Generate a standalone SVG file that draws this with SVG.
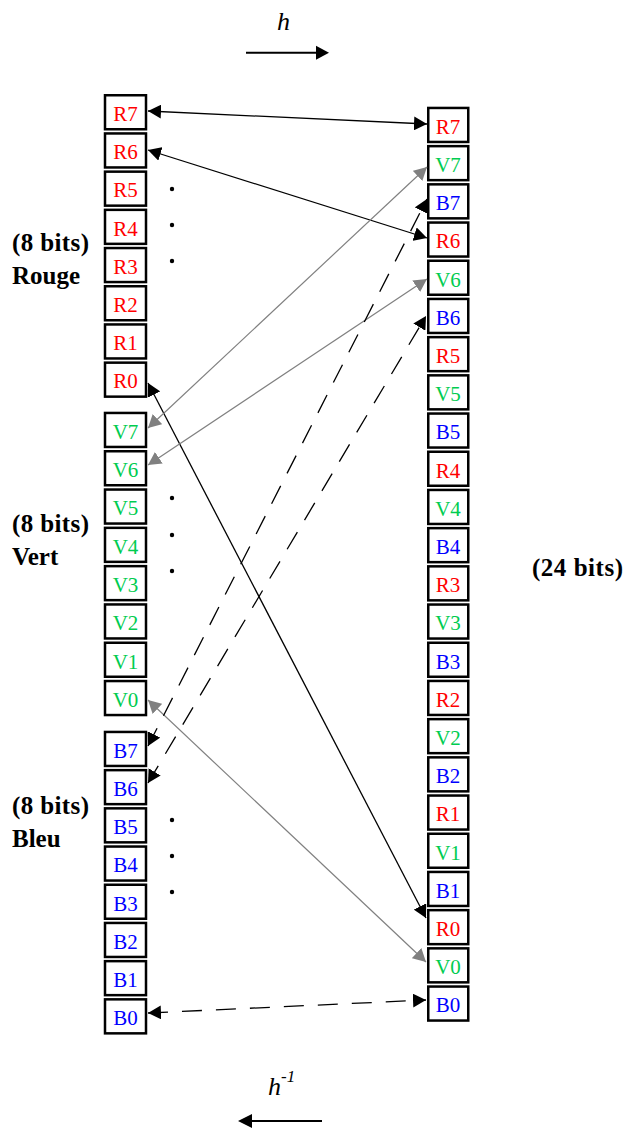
<svg xmlns="http://www.w3.org/2000/svg" width="626" height="1129" viewBox="0 0 626 1129">
<style>
.bx{fill:#fff;stroke:#000;stroke-width:2.5}
.t{font-size:21px;text-anchor:middle}
.r{fill:#ff0000}.v{fill:#00cc50}.b{fill:#0000ff}
.lbl{font-size:25px;font-weight:bold;fill:#000}
.it{font-style:italic;fill:#000}
.k{stroke:#000;stroke-width:1.3;fill:none;marker-start:url(#ak);marker-end:url(#ak)}
.g{stroke:#808080;stroke-width:1.2;fill:none;marker-start:url(#ag);marker-end:url(#ag)}
.d{stroke:#000;stroke-width:1.3;fill:none;stroke-dasharray:20 14;marker-start:url(#ak);marker-end:url(#ak)}
.dot{fill:#000}
</style>
<defs>
<marker id="ak" viewBox="0 0 13 14" refX="13" refY="7" markerWidth="13" markerHeight="14" markerUnits="userSpaceOnUse" orient="auto-start-reverse"><path d="M0,0 L13,7 L0,14 z" fill="#000"/></marker>
<marker id="ag" viewBox="0 0 13 14" refX="13" refY="7" markerWidth="13" markerHeight="14" markerUnits="userSpaceOnUse" orient="auto-start-reverse"><path d="M0,0 L13,7 L0,14 z" fill="#808080"/></marker>
</defs>
<g font-family="Liberation Serif, Times New Roman, serif">

<!-- direction indicators -->
<g id="h-top">
<text class="it" x="277" y="30" font-size="26">h</text>
<line x1="246" y1="52.7" x2="318" y2="52.7" stroke="#000" stroke-width="2"/>
<polygon points="316,45.7 329,52.7 316,59.7" fill="#000"/>
</g>
<g id="h-inv">
<text class="it" x="268" y="1095" font-size="26">h<tspan font-size="17" dy="-13">-1</tspan></text>
<line x1="250" y1="1121" x2="322" y2="1121" stroke="#000" stroke-width="2"/>
<polygon points="238,1121 252,1114 252,1128" fill="#000"/>
</g>

<!-- labels -->
<g id="label-rouge"><text class="lbl" x="12" y="251" textLength="77" lengthAdjust="spacing">(8 bits)</text><text class="lbl" x="12" y="284">Rouge</text></g>
<g id="label-vert"><text class="lbl" x="12" y="532" textLength="77" lengthAdjust="spacing">(8 bits)</text><text class="lbl" x="12" y="565">Vert</text></g>
<g id="label-bleu"><text class="lbl" x="12" y="814" textLength="77" lengthAdjust="spacing">(8 bits)</text><text class="lbl" x="12" y="847">Bleu</text></g>
<g id="label-24"><text class="lbl" x="532" y="576" textLength="91" lengthAdjust="spacing">(24 bits)</text></g>

<!-- left column: Rouge -->
<g id="L-R7"><rect class="bx" x="105" y="95.25" width="41" height="34"/><text class="t r" x="125.5" y="121">R7</text></g>
<g id="L-R6"><rect class="bx" x="105" y="133.45" width="41" height="34"/><text class="t r" x="125.5" y="159.2">R6</text></g>
<g id="L-R5"><rect class="bx" x="105" y="171.65" width="41" height="34"/><text class="t r" x="125.5" y="197.4">R5</text></g>
<g id="L-R4"><rect class="bx" x="105" y="209.85" width="41" height="34"/><text class="t r" x="125.5" y="235.6">R4</text></g>
<g id="L-R3"><rect class="bx" x="105" y="248.05" width="41" height="34"/><text class="t r" x="125.5" y="273.8">R3</text></g>
<g id="L-R2"><rect class="bx" x="105" y="286.25" width="41" height="34"/><text class="t r" x="125.5" y="312">R2</text></g>
<g id="L-R1"><rect class="bx" x="105" y="324.45" width="41" height="34"/><text class="t r" x="125.5" y="350.2">R1</text></g>
<g id="L-R0"><rect class="bx" x="105" y="362.65" width="41" height="34"/><text class="t r" x="125.5" y="388.4">R0</text></g>

<!-- left column: Vert -->
<g id="L-V7"><rect class="bx" x="105" y="412.95" width="41" height="34"/><text class="t v" x="125.5" y="438.7">V7</text></g>
<g id="L-V6"><rect class="bx" x="105" y="451.25" width="41" height="34"/><text class="t v" x="125.5" y="477">V6</text></g>
<g id="L-V5"><rect class="bx" x="105" y="489.55" width="41" height="34"/><text class="t v" x="125.5" y="515.3">V5</text></g>
<g id="L-V4"><rect class="bx" x="105" y="527.85" width="41" height="34"/><text class="t v" x="125.5" y="553.6">V4</text></g>
<g id="L-V3"><rect class="bx" x="105" y="566.15" width="41" height="34"/><text class="t v" x="125.5" y="591.9">V3</text></g>
<g id="L-V2"><rect class="bx" x="105" y="604.45" width="41" height="34"/><text class="t v" x="125.5" y="630.2">V2</text></g>
<g id="L-V1"><rect class="bx" x="105" y="642.75" width="41" height="34"/><text class="t v" x="125.5" y="668.5">V1</text></g>
<g id="L-V0"><rect class="bx" x="105" y="681.05" width="41" height="34"/><text class="t v" x="125.5" y="706.8">V0</text></g>

<!-- left column: Bleu -->
<g id="L-B7"><rect class="bx" x="105" y="731.95" width="41" height="34"/><text class="t b" x="125.5" y="757.7">B7</text></g>
<g id="L-B6"><rect class="bx" x="105" y="770.15" width="41" height="34"/><text class="t b" x="125.5" y="795.9">B6</text></g>
<g id="L-B5"><rect class="bx" x="105" y="808.35" width="41" height="34"/><text class="t b" x="125.5" y="834.1">B5</text></g>
<g id="L-B4"><rect class="bx" x="105" y="846.55" width="41" height="34"/><text class="t b" x="125.5" y="872.3">B4</text></g>
<g id="L-B3"><rect class="bx" x="105" y="884.75" width="41" height="34"/><text class="t b" x="125.5" y="910.5">B3</text></g>
<g id="L-B2"><rect class="bx" x="105" y="922.95" width="41" height="34"/><text class="t b" x="125.5" y="948.7">B2</text></g>
<g id="L-B1"><rect class="bx" x="105" y="961.15" width="41" height="34"/><text class="t b" x="125.5" y="986.9">B1</text></g>
<g id="L-B0"><rect class="bx" x="105" y="999.35" width="41" height="34"/><text class="t b" x="125.5" y="1025.1">B0</text></g>

<!-- right column: 24 bits -->
<g id="R-R7"><rect class="bx" x="428.25" y="107.95" width="40" height="34"/><text class="t r" x="448" y="133.7">R7</text></g>
<g id="R-V7"><rect class="bx" x="428.25" y="146.15" width="40" height="34"/><text class="t v" x="448" y="171.9">V7</text></g>
<g id="R-B7"><rect class="bx" x="428.25" y="184.35" width="40" height="34"/><text class="t b" x="448" y="210.1">B7</text></g>
<g id="R-R6"><rect class="bx" x="428.25" y="222.55" width="40" height="34"/><text class="t r" x="448" y="248.3">R6</text></g>
<g id="R-V6"><rect class="bx" x="428.25" y="260.75" width="40" height="34"/><text class="t v" x="448" y="286.5">V6</text></g>
<g id="R-B6"><rect class="bx" x="428.25" y="298.95" width="40" height="34"/><text class="t b" x="448" y="324.7">B6</text></g>
<g id="R-R5"><rect class="bx" x="428.25" y="337.15" width="40" height="34"/><text class="t r" x="448" y="362.9">R5</text></g>
<g id="R-V5"><rect class="bx" x="428.25" y="375.35" width="40" height="34"/><text class="t v" x="448" y="401.1">V5</text></g>
<g id="R-B5"><rect class="bx" x="428.25" y="413.55" width="40" height="34"/><text class="t b" x="448" y="439.3">B5</text></g>
<g id="R-R4"><rect class="bx" x="428.25" y="451.75" width="40" height="34"/><text class="t r" x="448" y="477.5">R4</text></g>
<g id="R-V4"><rect class="bx" x="428.25" y="489.95" width="40" height="34"/><text class="t v" x="448" y="515.7">V4</text></g>
<g id="R-B4"><rect class="bx" x="428.25" y="528.15" width="40" height="34"/><text class="t b" x="448" y="553.9">B4</text></g>
<g id="R-R3"><rect class="bx" x="428.25" y="566.35" width="40" height="34"/><text class="t r" x="448" y="592.1">R3</text></g>
<g id="R-V3"><rect class="bx" x="428.25" y="604.55" width="40" height="34"/><text class="t v" x="448" y="630.3">V3</text></g>
<g id="R-B3"><rect class="bx" x="428.25" y="642.75" width="40" height="34"/><text class="t b" x="448" y="668.5">B3</text></g>
<g id="R-R2"><rect class="bx" x="428.25" y="680.95" width="40" height="34"/><text class="t r" x="448" y="706.7">R2</text></g>
<g id="R-V2"><rect class="bx" x="428.25" y="719.15" width="40" height="34"/><text class="t v" x="448" y="744.9">V2</text></g>
<g id="R-B2"><rect class="bx" x="428.25" y="757.35" width="40" height="34"/><text class="t b" x="448" y="783.1">B2</text></g>
<g id="R-R1"><rect class="bx" x="428.25" y="795.55" width="40" height="34"/><text class="t r" x="448" y="821.3">R1</text></g>
<g id="R-V1"><rect class="bx" x="428.25" y="833.75" width="40" height="34"/><text class="t v" x="448" y="859.5">V1</text></g>
<g id="R-B1"><rect class="bx" x="428.25" y="871.95" width="40" height="34"/><text class="t b" x="448" y="897.7">B1</text></g>
<g id="R-R0"><rect class="bx" x="428.25" y="910.15" width="40" height="34"/><text class="t r" x="448" y="935.9">R0</text></g>
<g id="R-V0"><rect class="bx" x="428.25" y="948.35" width="40" height="34"/><text class="t v" x="448" y="974.1">V0</text></g>
<g id="R-B0"><rect class="bx" x="428.25" y="986.55" width="40" height="34"/><text class="t b" x="448" y="1012.3">B0</text></g>
</g>

<!-- ellipsis dots -->
<g id="dots">
<circle class="dot" cx="172" cy="189" r="2.2"/><circle class="dot" cx="172" cy="225" r="2.2"/><circle class="dot" cx="172" cy="261" r="2.2"/>
<circle class="dot" cx="172" cy="498" r="2.2"/><circle class="dot" cx="172" cy="535" r="2.2"/><circle class="dot" cx="172" cy="571" r="2.2"/>
<circle class="dot" cx="172" cy="820" r="2.2"/><circle class="dot" cx="172" cy="856" r="2.2"/><circle class="dot" cx="172" cy="892" r="2.2"/>
</g>

<!-- connectors -->
<g id="connectors">
<line class="k" x1="148" y1="111" x2="427" y2="124"/>
<line class="k" x1="148" y1="150" x2="427" y2="238"/>
<line class="k" x1="148" y1="383" x2="426" y2="918"/>
<line class="g" x1="148" y1="428" x2="427" y2="167"/>
<line class="g" x1="148" y1="465" x2="427" y2="279"/>
<line class="g" x1="148" y1="700" x2="426" y2="962"/>
<line class="d" x1="148" y1="746" x2="427" y2="199"/>
<line class="d" x1="148" y1="783" x2="426" y2="316"/>
<line class="d" x1="148" y1="1013" x2="426" y2="1000"/>
</g>
</svg>
